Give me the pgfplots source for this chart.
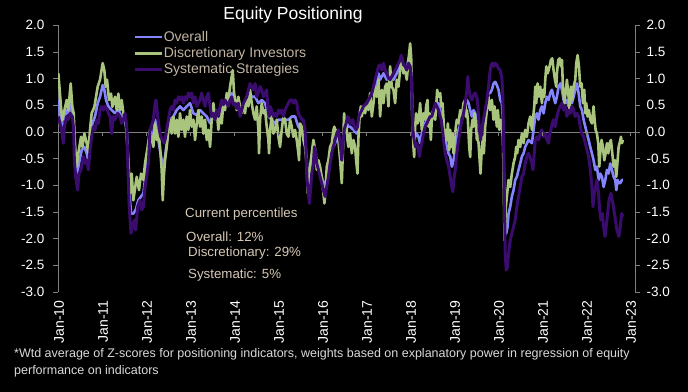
\documentclass[border=0pt]{standalone}
\usepackage{pgfplots}
\pgfplotsset{compat=1.18}
\usepackage{pgfplotstable}
\usepackage{fontspec}
\setmainfont{Liberation Sans}
\definecolor{cOver}{HTML}{8585FF}
\definecolor{cDisc}{HTML}{A9C47D}
\definecolor{cSys}{HTML}{3A0C6E}
\definecolor{cAxis}{HTML}{808080}
\definecolor{cLeg}{HTML}{C2B5A3}
\definecolor{cAnn}{HTML}{D6C8B6}
\definecolor{cFoot}{HTML}{D9D9D9}

\pgfplotstableread{
x y
2010.008 0.60
2010.046 0.29
2010.084 0.16
2010.121 -0.03
2010.159 0.23
2010.197 0.41
2010.250 0.35
2010.288 0.54
2010.334 0.35
2010.364 0.04
2010.402 -0.53
2010.432 -0.78
2010.477 -0.59
2010.538 -0.34
2010.599 -0.28
2010.652 -0.40
2010.690 -0.53
2010.727 -0.21
2010.780 0.16
2010.841 0.29
2010.902 0.54
2010.955 0.66
2011.015 0.88
2011.053 0.79
2011.091 0.60
2011.144 0.48
2011.220 0.41
2011.296 0.35
2011.371 0.41
2011.447 0.29
2011.523 0.23
2011.568 -0.03
2011.614 -1.03
2011.659 -1.53
2011.712 -1.53
2011.765 -1.46
2011.826 -1.28
2011.887 -1.21
2011.940 -1.15
2011.992 -0.78
2012.053 -0.46
2012.091 -0.15
2012.167 -0.03
2012.205 0.23
2012.243 0.10
2012.280 -0.15
2012.318 -0.34
2012.356 -0.53
2012.394 -0.65
2012.432 -0.46
2012.470 -0.21
2012.508 0.04
2012.546 0.23
2012.621 0.29
2012.697 0.41
2012.773 0.48
2012.849 0.41
2012.924 0.48
2013.000 0.54
2013.076 0.35
2013.152 0.32
2013.227 0.41
2013.303 0.35
2013.379 0.29
2013.455 0.16
2013.530 0.35
2013.606 0.29
2013.682 0.35
2013.758 0.48
2013.833 0.54
2013.909 0.66
2013.947 0.73
2013.985 0.60
2014.061 0.48
2014.136 0.41
2014.212 0.48
2014.250 0.54
2014.326 0.66
2014.364 0.73
2014.402 0.66
2014.477 0.66
2014.553 0.54
2014.629 0.60
2014.705 0.54
2014.780 0.29
2014.856 0.23
2014.932 0.16
2015.008 0.23
2015.083 0.23
2015.159 0.23
2015.235 0.23
2015.311 0.29
2015.386 0.29
2015.462 0.10
2015.538 0.04
2015.614 -0.09
2015.652 -0.53
2015.689 -1.03
2015.727 -0.96
2015.765 -0.65
2015.803 -0.40
2015.841 -0.40
2015.879 -0.53
2015.917 -0.65
2015.955 -0.78
2015.992 -0.84
2016.030 -0.96
2016.068 -1.03
2016.106 -0.84
2016.144 -0.65
2016.182 -0.46
2016.220 -0.34
2016.295 -0.21
2016.371 -0.09
2016.410 -0.34
2016.448 -0.65
2016.486 -0.09
2016.524 0.10
2016.562 0.16
2016.599 0.10
2016.637 0.10
2016.713 0.04
2016.789 -0.03
2016.827 0.16
2016.865 0.41
2016.940 0.48
2017.016 0.54
2017.092 0.66
2017.168 0.79
2017.243 0.91
2017.281 1.10
2017.319 0.98
2017.357 1.04
2017.395 1.10
2017.471 0.98
2017.546 1.04
2017.622 0.98
2017.698 1.10
2017.774 1.23
2017.811 1.35
2017.849 1.23
2017.925 1.16
2017.963 1.38
2018.001 1.35
2018.024 1.16
2018.046 0.35
2018.077 -0.09
2018.115 -0.09
2018.152 -0.03
2018.190 -0.09
2018.228 -0.21
2018.266 -0.03
2018.304 0.10
2018.380 0.23
2018.455 0.29
2018.531 0.41
2018.570 0.48
2018.646 0.54
2018.684 0.41
2018.722 0.23
2018.759 0.04
2018.797 -0.15
2018.835 -0.28
2018.873 -0.40
2018.911 -0.46
2018.949 -0.65
2018.987 -0.53
2019.025 -0.34
2019.062 -0.15
2019.100 0.04
2019.176 0.23
2019.252 0.48
2019.290 0.60
2019.328 0.54
2019.365 0.41
2019.403 0.29
2019.441 0.41
2019.479 0.35
2019.555 0.10
2019.593 -0.09
2019.631 0.04
2019.706 0.35
2019.744 0.54
2019.782 0.73
2019.820 0.73
2019.858 0.79
2019.896 0.91
2019.934 0.94
2019.971 0.88
2020.009 0.79
2020.047 0.60
2020.085 0.54
2020.108 0.23
2020.131 -0.71
2020.153 -1.78
2020.184 -1.90
2020.214 -1.78
2020.237 -1.53
2020.275 -1.40
2020.312 -1.21
2020.350 -1.09
2020.388 -0.90
2020.426 -0.84
2020.464 -0.71
2020.502 -0.59
2020.540 -0.46
2020.578 -0.40
2020.615 -0.28
2020.691 -0.15
2020.768 -0.21
2020.806 0.04
2020.844 0.29
2020.882 0.35
2020.919 0.23
2020.957 0.41
2020.995 0.48
2021.033 0.35
2021.071 0.54
2021.109 0.66
2021.147 0.60
2021.185 0.73
2021.222 0.79
2021.260 0.66
2021.298 0.54
2021.336 0.66
2021.374 0.85
2021.412 0.91
2021.450 0.79
2021.488 0.60
2021.525 0.54
2021.563 0.60
2021.601 0.48
2021.639 0.60
2021.677 0.54
2021.715 0.66
2021.753 0.79
2021.791 0.91
2021.828 0.73
2021.866 0.48
2021.904 0.41
2021.942 0.23
2021.980 0.10
2022.018 -0.03
2022.056 -0.15
2022.094 -0.28
2022.131 -0.40
2022.169 -0.53
2022.207 -0.71
2022.245 -0.65
2022.283 -0.90
2022.321 -0.78
2022.359 -0.84
2022.397 -1.03
2022.435 -0.90
2022.472 -0.71
2022.510 -0.78
2022.548 -0.59
2022.586 -0.71
2022.624 -0.84
2022.662 -0.90
2022.685 -1.09
2022.715 -0.90
2022.745 -0.96
2022.775 -0.96
2022.813 -0.90
2022.836 -0.90
}\overall

\pgfplotstableread{
x y
2010.008 1.10
2010.068 0.47
2010.099 0.22
2010.144 0.40
2010.197 0.60
2010.235 0.41
2010.288 0.91
2010.326 0.47
2010.356 0.35
2010.387 -0.28
2010.424 -0.65
2010.462 -0.40
2010.523 -0.09
2010.553 -0.28
2010.599 -0.03
2010.652 -0.21
2010.690 -0.40
2010.727 0.04
2010.765 0.35
2010.826 0.47
2010.902 0.85
2010.955 0.98
2011.015 1.29
2011.053 1.16
2011.084 0.85
2011.114 0.98
2011.159 0.60
2011.205 0.72
2011.235 0.47
2011.296 0.66
2011.334 0.41
2011.371 0.72
2011.409 0.41
2011.447 0.60
2011.485 0.35
2011.538 0.22
2011.561 -0.09
2011.599 -0.53
2011.637 -1.15
2011.674 -0.78
2011.712 -1.28
2011.788 -0.84
2011.841 -1.09
2011.887 -0.78
2011.940 -0.90
2011.977 -0.59
2012.038 -0.28
2012.091 0.04
2012.167 -0.28
2012.205 0.16
2012.243 -0.15
2012.280 0.04
2012.318 -0.28
2012.356 -0.71
2012.379 -1.28
2012.409 -0.78
2012.432 -0.53
2012.470 -0.28
2012.508 0.04
2012.546 0.23
2012.583 -0.03
2012.621 0.29
2012.659 -0.03
2012.697 0.23
2012.735 -0.09
2012.773 0.35
2012.811 0.04
2012.849 0.23
2012.886 -0.09
2012.924 0.29
2012.962 0.04
2013.000 0.41
2013.038 0.10
2013.076 0.23
2013.114 -0.15
2013.152 0.16
2013.189 0.41
2013.227 0.10
2013.265 0.29
2013.303 -0.03
2013.341 0.23
2013.379 -0.15
2013.417 0.04
2013.455 -0.28
2013.492 0.23
2013.530 0.54
2013.568 0.23
2013.606 0.41
2013.644 0.04
2013.682 0.35
2013.720 0.16
2013.758 0.54
2013.795 0.41
2013.833 0.73
2013.871 0.60
2013.909 0.85
2013.947 1.04
2013.970 1.16
2014.000 0.73
2014.023 0.60
2014.061 0.41
2014.098 0.66
2014.136 0.48
2014.174 0.35
2014.212 0.54
2014.250 0.35
2014.288 0.66
2014.326 0.48
2014.364 0.79
2014.402 0.54
2014.439 0.35
2014.477 0.23
2014.515 0.48
2014.553 0.04
2014.568 -0.40
2014.591 0.23
2014.629 0.54
2014.667 0.35
2014.705 0.41
2014.742 0.10
2014.780 -0.15
2014.795 -0.40
2014.818 0.04
2014.856 0.29
2014.894 -0.03
2014.932 0.04
2014.970 0.23
2015.008 -0.09
2015.045 -0.28
2015.083 0.04
2015.121 0.29
2015.159 0.23
2015.197 -0.03
2015.235 -0.09
2015.273 0.23
2015.311 0.10
2015.348 -0.09
2015.386 0.04
2015.424 -0.15
2015.462 -0.40
2015.477 -0.53
2015.500 0.16
2015.538 0.10
2015.576 -0.15
2015.614 -0.28
2015.652 -0.65
2015.674 -1.15
2015.705 -0.84
2015.735 -0.59
2015.765 -0.40
2015.803 -0.15
2015.856 -0.40
2015.879 -0.71
2015.917 -0.53
2015.955 -0.65
2015.992 -0.84
2016.030 -1.15
2016.053 -1.34
2016.083 -1.03
2016.106 -0.65
2016.144 -0.53
2016.182 -0.28
2016.220 -0.21
2016.258 0.04
2016.280 0.10
2016.311 -0.15
2016.333 0.04
2016.371 -0.15
2016.410 -0.53
2016.448 -0.96
2016.471 -0.40
2016.501 0.35
2016.524 0.10
2016.546 0.23
2016.577 -0.15
2016.599 -0.28
2016.637 -0.03
2016.675 -0.40
2016.713 -0.15
2016.751 -0.28
2016.774 -0.53
2016.804 -0.78
2016.827 -0.09
2016.849 0.23
2016.880 0.48
2016.902 0.29
2016.940 0.48
2016.978 0.35
2017.016 0.54
2017.054 0.41
2017.092 0.73
2017.130 0.29
2017.168 0.54
2017.205 0.85
2017.243 0.66
2017.281 0.98
2017.319 0.29
2017.357 0.79
2017.395 0.54
2017.433 0.85
2017.471 0.91
2017.508 0.48
2017.546 1.23
2017.584 0.85
2017.622 0.79
2017.660 0.54
2017.698 0.98
2017.736 0.85
2017.774 1.16
2017.811 1.41
2017.849 1.10
2017.887 1.16
2017.925 0.98
2017.963 1.35
2018.001 1.66
2018.024 1.41
2018.039 0.85
2018.054 0.23
2018.077 -0.28
2018.092 -0.47
2018.115 0.10
2018.137 0.35
2018.168 0.16
2018.198 0.23
2018.228 0.54
2018.266 0.04
2018.304 0.35
2018.342 0.23
2018.364 0.48
2018.395 0.60
2018.418 0.10
2018.440 0.35
2018.471 -0.15
2018.493 0.23
2018.531 0.35
2018.570 0.23
2018.593 0.48
2018.615 0.79
2018.646 0.66
2018.684 0.73
2018.706 0.48
2018.737 0.54
2018.759 0.23
2018.782 -0.28
2018.812 0.04
2018.835 -0.15
2018.858 0.16
2018.888 -0.34
2018.911 0.04
2018.934 -0.28
2018.964 -0.03
2018.987 -0.40
2019.009 -0.15
2019.040 0.10
2019.062 0.23
2019.100 0.16
2019.138 0.41
2019.176 0.29
2019.214 0.54
2019.252 0.60
2019.267 0.29
2019.290 0.41
2019.312 0.23
2019.343 -0.28
2019.365 -0.47
2019.388 0.04
2019.418 0.23
2019.441 0.10
2019.464 0.35
2019.494 0.16
2019.517 -0.15
2019.540 -0.03
2019.570 -0.40
2019.600 -0.78
2019.631 -0.28
2019.653 -0.09
2019.676 -0.40
2019.706 0.10
2019.744 0.41
2019.782 0.66
2019.820 0.41
2019.858 0.60
2019.896 0.23
2019.918 0.48
2019.949 0.29
2019.971 0.10
2019.994 0.41
2020.025 0.04
2020.055 0.23
2020.085 0.10
2020.108 -0.09
2020.123 -0.71
2020.146 -2.03
2020.176 -1.40
2020.206 -1.15
2020.237 -0.90
2020.275 -1.03
2020.312 -0.78
2020.350 -0.59
2020.388 -0.46
2020.411 -0.28
2020.434 -0.40
2020.464 -0.15
2020.502 -0.28
2020.540 -0.03
2020.578 -0.21
2020.615 0.04
2020.653 -0.09
2020.691 0.16
2020.730 0.29
2020.768 0.04
2020.791 0.23
2020.821 0.48
2020.844 0.85
2020.866 0.54
2020.897 0.91
2020.927 0.66
2020.957 0.85
2020.995 0.54
2021.018 0.79
2021.048 0.66
2021.071 0.98
2021.094 1.23
2021.124 1.10
2021.147 1.16
2021.169 1.23
2021.200 1.35
2021.230 1.38
2021.260 1.16
2021.291 0.98
2021.321 0.85
2021.336 1.10
2021.366 1.35
2021.397 1.38
2021.427 1.23
2021.450 1.35
2021.472 0.85
2021.503 0.54
2021.533 0.73
2021.563 0.98
2021.601 0.66
2021.624 0.41
2021.654 0.85
2021.685 0.60
2021.715 0.85
2021.753 0.98
2021.775 1.29
2021.806 1.44
2021.836 1.23
2021.866 0.85
2021.897 0.91
2021.927 0.54
2021.957 0.79
2021.980 0.35
2022.003 0.54
2022.033 0.29
2022.063 0.41
2022.094 0.23
2022.131 0.16
2022.169 0.48
2022.192 0.23
2022.215 0.04
2022.245 -0.03
2022.275 -0.21
2022.298 -0.65
2022.321 -0.40
2022.351 -0.15
2022.381 -0.28
2022.412 -0.53
2022.442 -0.40
2022.472 -0.21
2022.503 -0.40
2022.533 -0.21
2022.563 -0.15
2022.594 -0.40
2022.624 -0.65
2022.654 -0.53
2022.685 -0.84
2022.715 -0.53
2022.738 -0.28
2022.760 -0.21
2022.791 -0.09
2022.813 -0.21
2022.836 -0.15
}\disc

\pgfplotstableread{
x y
2010.008 0.29
2010.046 0.16
2010.084 0.04
2010.121 -0.21
2010.144 0.10
2010.197 0.29
2010.235 0.23
2010.273 0.35
2010.326 0.29
2010.356 0.04
2010.371 -0.53
2010.402 -0.84
2010.447 -1.09
2010.477 -0.78
2010.523 -0.71
2010.576 -0.46
2010.614 -0.59
2010.652 -0.53
2010.690 -0.71
2010.727 -0.34
2010.765 -0.09
2010.803 0.10
2010.841 0.04
2010.879 0.22
2010.917 0.16
2010.955 0.41
2010.993 0.48
2011.030 0.41
2011.068 0.48
2011.106 0.44
2011.144 0.35
2011.182 0.29
2011.220 -0.03
2011.258 0.29
2011.296 0.23
2011.356 0.35
2011.409 0.29
2011.447 0.16
2011.485 0.23
2011.523 0.35
2011.561 0.10
2011.591 -0.71
2011.614 -1.34
2011.659 -1.90
2011.690 -1.78
2011.735 -1.65
2011.765 -1.84
2011.811 -1.40
2011.864 -1.28
2011.902 -1.46
2011.940 -1.40
2011.977 -1.03
2012.015 -0.84
2012.053 -0.59
2012.091 0.04
2012.167 0.23
2012.205 0.54
2012.227 0.60
2012.258 0.35
2012.303 0.04
2012.333 -0.09
2012.379 -0.15
2012.409 -0.21
2012.432 -0.15
2012.470 0.04
2012.508 0.23
2012.546 0.41
2012.583 0.48
2012.621 0.41
2012.659 0.60
2012.697 0.54
2012.735 0.66
2012.773 0.60
2012.811 0.66
2012.849 0.54
2012.886 0.66
2012.924 0.60
2012.962 0.73
2013.000 0.66
2013.038 0.73
2013.076 0.54
2013.114 0.66
2013.152 0.48
2013.189 0.54
2013.227 0.60
2013.265 0.73
2013.303 0.60
2013.341 0.48
2013.379 0.66
2013.417 0.73
2013.455 0.48
2013.492 0.29
2013.530 0.35
2013.568 0.23
2013.606 0.41
2013.644 0.29
2013.682 0.48
2013.720 0.60
2013.758 0.51
2013.795 0.60
2013.833 0.54
2013.871 0.48
2013.909 0.60
2013.947 0.66
2013.985 0.51
2014.023 0.54
2014.061 0.44
2014.098 0.54
2014.136 0.29
2014.174 0.41
2014.212 0.54
2014.250 0.60
2014.288 0.66
2014.326 0.79
2014.364 0.91
2014.402 0.85
2014.439 0.79
2014.477 0.91
2014.515 0.66
2014.553 0.73
2014.591 0.85
2014.629 0.79
2014.667 0.66
2014.705 0.73
2014.742 0.79
2014.765 0.48
2014.795 0.29
2014.818 0.48
2014.856 0.41
2014.894 0.29
2014.932 0.35
2014.970 0.29
2015.008 0.41
2015.045 0.35
2015.083 0.41
2015.121 0.29
2015.159 0.41
2015.197 0.48
2015.235 0.54
2015.273 0.60
2015.311 0.60
2015.348 0.54
2015.386 0.60
2015.424 0.54
2015.462 0.35
2015.500 0.29
2015.538 0.23
2015.576 0.23
2015.614 0.04
2015.636 -0.40
2015.659 -0.90
2015.689 -1.15
2015.712 -1.34
2015.742 -1.03
2015.765 -0.78
2015.803 -0.59
2015.826 -0.28
2015.856 -0.40
2015.879 -0.59
2015.917 -0.71
2015.955 -0.84
2015.992 -0.96
2016.030 -1.09
2016.068 -1.21
2016.106 -1.03
2016.144 -0.84
2016.182 -0.59
2016.220 -0.40
2016.258 -0.28
2016.295 -0.15
2016.333 -0.03
2016.371 0.04
2016.410 -0.21
2016.448 -0.53
2016.471 -0.28
2016.501 0.04
2016.546 0.16
2016.577 0.29
2016.622 0.23
2016.652 0.16
2016.698 0.23
2016.728 0.10
2016.774 0.04
2016.804 0.10
2016.834 0.29
2016.865 0.35
2016.902 0.41
2016.940 0.48
2016.978 0.51
2017.016 0.54
2017.054 0.60
2017.092 0.66
2017.130 0.73
2017.168 0.85
2017.205 0.98
2017.243 1.10
2017.281 1.23
2017.319 1.26
2017.357 1.16
2017.395 1.29
2017.433 1.16
2017.471 1.10
2017.508 1.01
2017.546 0.98
2017.584 1.04
2017.622 1.10
2017.660 1.16
2017.698 1.23
2017.736 1.29
2017.774 1.35
2017.796 1.44
2017.827 1.35
2017.849 1.26
2017.887 1.23
2017.925 1.16
2017.963 1.29
2018.001 1.23
2018.024 1.10
2018.046 0.54
2018.062 0.04
2018.092 -0.15
2018.122 -0.28
2018.152 -0.21
2018.190 -0.34
2018.213 -0.46
2018.243 -0.28
2018.266 -0.21
2018.304 -0.03
2018.342 0.10
2018.380 0.16
2018.418 0.23
2018.455 0.29
2018.493 0.29
2018.531 0.41
2018.570 0.54
2018.608 0.48
2018.646 0.41
2018.684 0.29
2018.706 0.23
2018.737 0.04
2018.759 -0.15
2018.797 -0.40
2018.835 -0.53
2018.873 -0.65
2018.911 -0.84
2018.949 -1.03
2018.972 -1.12
2018.994 -0.90
2019.025 -0.71
2019.062 -0.40
2019.100 -0.15
2019.138 0.04
2019.176 0.23
2019.214 0.35
2019.252 0.54
2019.290 0.79
2019.312 1.04
2019.328 0.85
2019.365 0.66
2019.403 0.60
2019.441 0.69
2019.479 0.73
2019.517 0.66
2019.540 0.48
2019.570 0.10
2019.600 -0.15
2019.631 0.04
2019.668 0.23
2019.706 0.41
2019.744 0.60
2019.782 0.85
2019.820 1.16
2019.843 1.26
2019.873 1.29
2019.903 1.23
2019.934 1.29
2019.971 1.26
2020.009 1.19
2020.047 1.16
2020.085 1.01
2020.108 0.66
2020.123 -0.09
2020.138 -1.03
2020.161 -2.28
2020.184 -2.59
2020.214 -2.53
2020.237 -2.28
2020.275 -2.03
2020.312 -1.90
2020.350 -1.78
2020.388 -1.65
2020.426 -1.40
2020.464 -1.21
2020.502 -1.03
2020.540 -0.84
2020.578 -0.78
2020.615 -0.59
2020.653 -0.46
2020.691 -0.40
2020.768 -0.59
2020.791 -0.71
2020.821 -0.40
2020.844 -0.15
2020.882 -0.09
2020.919 -0.15
2020.957 -0.03
2020.995 0.04
2021.033 -0.09
2021.071 -0.03
2021.109 -0.15
2021.147 -0.21
2021.169 -0.03
2021.200 0.04
2021.230 0.16
2021.260 0.23
2021.298 0.10
2021.336 0.29
2021.374 0.41
2021.412 0.48
2021.450 0.54
2021.488 0.41
2021.525 0.48
2021.563 0.29
2021.601 0.41
2021.639 0.35
2021.677 0.48
2021.715 0.41
2021.753 0.29
2021.791 0.35
2021.828 0.29
2021.866 0.10
2021.904 -0.03
2021.942 -0.09
2021.980 -0.21
2022.018 -0.34
2022.056 -0.46
2022.094 -0.71
2022.131 -1.03
2022.154 -1.40
2022.185 -1.15
2022.215 -1.03
2022.245 -0.90
2022.283 -1.15
2022.306 -1.46
2022.336 -1.65
2022.366 -1.53
2022.397 -1.78
2022.427 -1.96
2022.472 -1.65
2022.518 -1.28
2022.563 -1.15
2022.609 -1.34
2022.654 -1.59
2022.700 -1.84
2022.745 -1.96
2022.775 -1.78
2022.806 -1.53
2022.836 -1.59
}\syst

\begin{document}
\begin{tikzpicture}
\fill[black] (-58bp,-100bp) rectangle (630bp,292bp);
\begin{axis}[
  at={(0,0)}, anchor=south west,
  scale only axis, width=577bp, height=266.7bp,
  xmin=2010, xmax=2023.11, ymin=-3, ymax=2,
  axis y line*=left, axis x line*=bottom,
  x axis line style={draw=none},
  y axis line style={cAxis, line width=0.8bp},
  tick align=outside, major tick length=5bp,
  ytick={-3,-2.5,-2,-1.5,-1,-0.5,0,0.5,1,1.5,2},
  yticklabels={-3.0,-2.5,-2.0,-1.5,-1.0,-0.5,0.0,0.5,1.0,1.5,2.0},
  ytick style={cAxis, line width=0.8bp},
  yticklabel style={font=\fontsize{13.5bp}{15bp}\selectfont, text=white, xshift=-5bp},
  xtick={2010,2011,2012,2013,2014,2015,2016,2017,2018,2019,2020,2021,2022,2023},
  xticklabels={Jan-10,Jan-11,Jan-12,Jan-13,Jan-14,Jan-15,Jan-16,Jan-17,Jan-18,Jan-19,Jan-20,Jan-21,Jan-22,Jan-23},
  xtick style={draw=none},
  xticklabel style={rotate=90, anchor=east, font=\fontsize{14bp}{15bp}\selectfont, text=white, yshift=-1bp},
  legend style={at={(0.13,0.982)}, anchor=north west, draw=none, fill=none,
    font=\fontsize{14bp}{16bp}\selectfont, text=cLeg, inner xsep=0pt, inner ysep=0pt,
    row sep=2.5bp, nodes={inner sep=1bp}},
  legend cell align=left,
  legend image code/.code={\draw[#1, line width=2.6bp] (0bp,0bp) -- (27bp,0bp);},
  line join=round,
]
\addplot[cAxis, line width=0.8bp, no marks, forget plot] coordinates {(2010,0) (2023.11,0)};
\addplot[cOver, line width=2.6bp, no marks] table[x=x,y=y] {\overall};
\addlegendentry{Overall}
\addplot[cDisc, line width=2.6bp, no marks] table[x=x,y=y] {\disc};
\addlegendentry{Discretionary Investors}
\addplot[cSys, line width=3bp, no marks] table[x=x,y=y] {\syst};
\addlegendentry{Systematic Strategies}
\end{axis}
\begin{axis}[
  at={(0,0)}, anchor=south west,
  scale only axis, width=577bp, height=266.7bp,
  xmin=2010, xmax=2023.11, ymin=-3, ymax=2,
  axis y line*=right, axis x line*=bottom,
  x axis line style={draw=none},
  xtick={2011,2012,2013,2014,2015,2016,2017,2018,2019,2020,2021,2022,2023},
  xticklabels={},
  xtick style={draw=none},
  y axis line style={cAxis, line width=0.8bp},
  tick align=outside, major tick length=5bp,
  ytick={-3,-2.5,-2,-1.5,-1,-0.5,0,0.5,1,1.5,2},
  yticklabels={-3.0,-2.5,-2.0,-1.5,-1.0,-0.5,0.0,0.5,1.0,1.5,2.0},
  ytick style={cAxis, line width=0.8bp},
  yticklabel style={font=\fontsize{13.5bp}{15bp}\selectfont, text=white, xshift=3bp},
]
\addplot[draw=none, no marks, forget plot] coordinates {(2010,0) (2023.11,0)};
\pgfplotsinvokeforeach{2011,2012,2013,2014,2015,2016,2017,2018,2019,2020,2021,2022,2023}{
  \addplot[cAxis, line width=0.8bp, no marks, forget plot] coordinates {(#1,0) (#1,-0.08)};
}
\end{axis}
\node[text=white, font=\fontsize{17.5bp}{19bp}\selectfont] at (235bp,277bp) {Equity Positioning};
\node[anchor=west, text=cAnn, font=\fontsize{13.3bp}{15bp}\selectfont, inner sep=0pt] at (127bp,78bp) {Current percentiles};
\node[anchor=west, text=cAnn, font=\fontsize{13.3bp}{15bp}\selectfont, inner sep=0pt] at (128bp,55bp) {Overall: 12\%};
\node[anchor=west, text=cAnn, font=\fontsize{13.3bp}{15bp}\selectfont, inner sep=0pt] at (130bp,39bp) {Discretionary: 29\%};
\node[anchor=west, text=cAnn, font=\fontsize{13.3bp}{15bp}\selectfont, inner sep=0pt] at (130bp,17bp) {Systematic: 5\%};
\node[anchor=west, text=cFoot, font=\fontsize{12.5bp}{14bp}\selectfont, inner sep=0pt] at (-44bp,-62bp) {*Wtd average of Z-scores for positioning indicators, weights based on explanatory power in regression of equity};
\node[anchor=west, text=cFoot, font=\fontsize{12.5bp}{14bp}\selectfont, inner sep=0pt] at (-44bp,-79bp) {performance on indicators};
\pgfresetboundingbox
\useasboundingbox (-58bp,-100bp) rectangle (630bp,292bp);
\end{tikzpicture}
\end{document}
